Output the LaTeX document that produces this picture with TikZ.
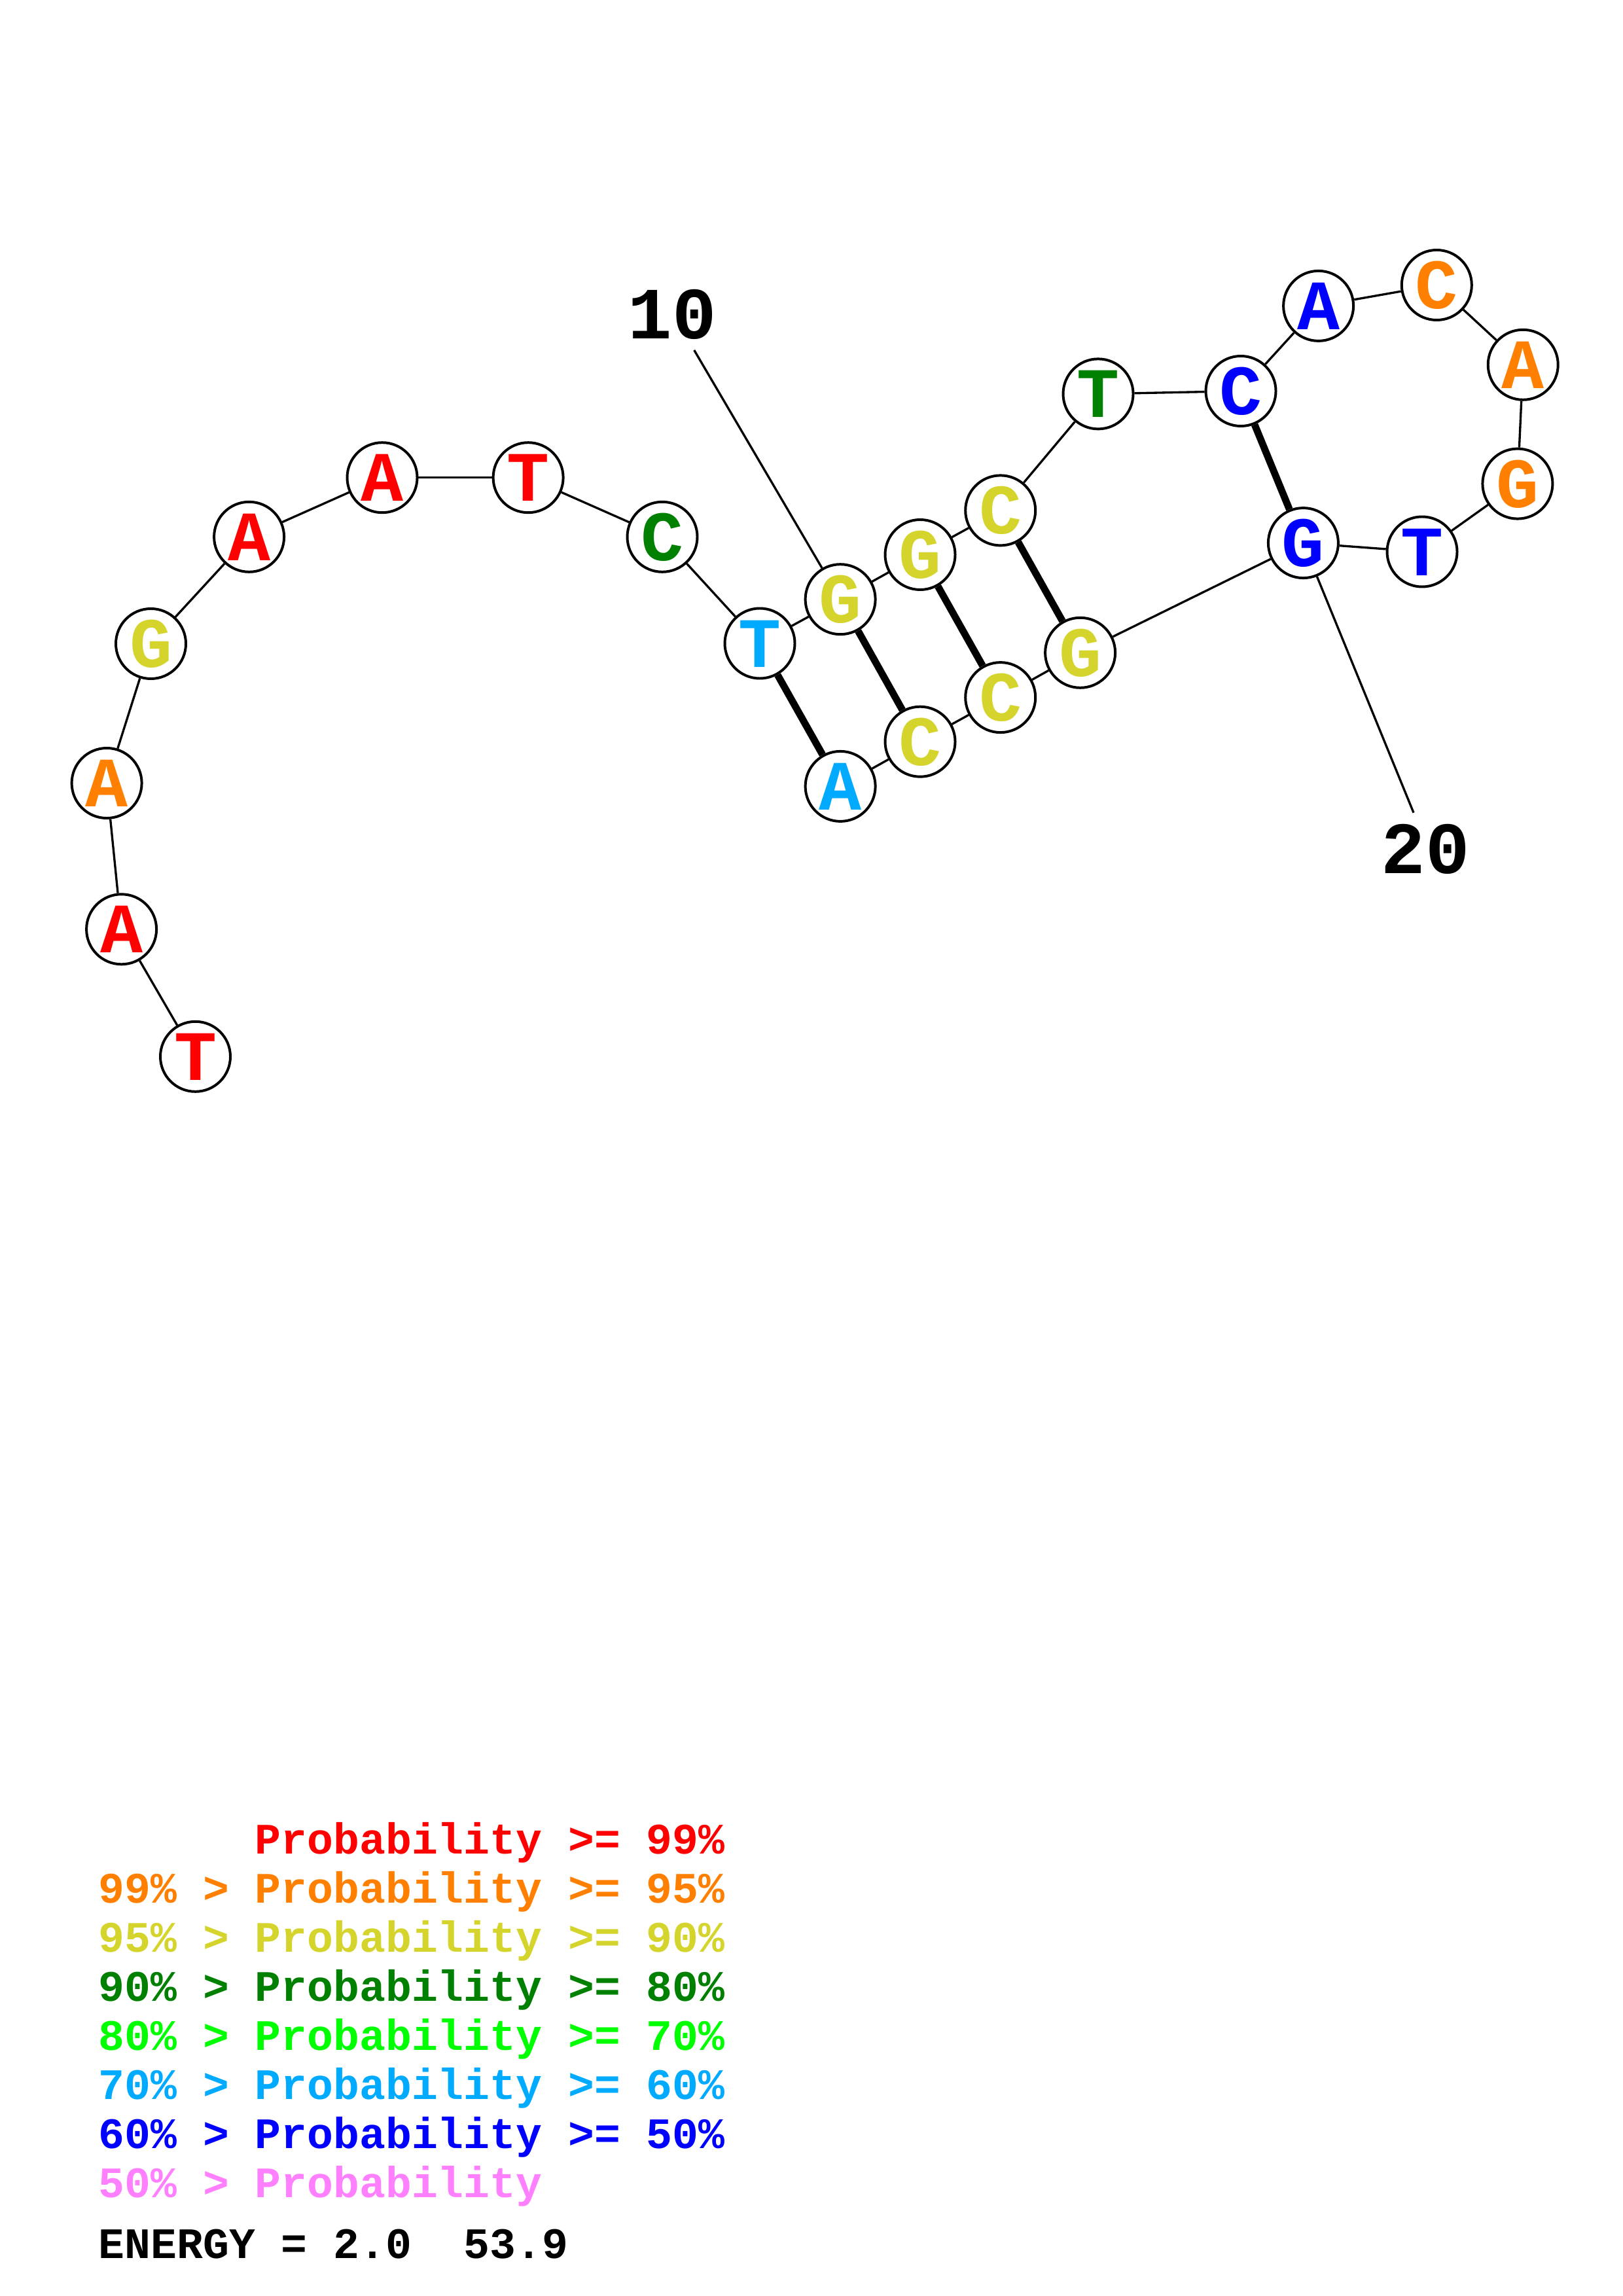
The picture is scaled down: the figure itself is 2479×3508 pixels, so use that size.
\documentclass[tikz,border=0pt]{standalone}
\usepackage{fontspec}
\newfontfamily\cour{Liberation Mono}
\definecolor{pred}{RGB}{255,0,0}
\definecolor{porange}{RGB}{255,128,0}
\definecolor{pyellow}{RGB}{212,212,44}
\definecolor{pdgreen}{RGB}{0,128,0}
\definecolor{pgreen}{RGB}{0,255,0}
\definecolor{plblue}{RGB}{0,170,255}
\definecolor{pblue}{RGB}{0,0,255}
\definecolor{ppink}{RGB}{255,128,255}
\begin{document}
\begin{tikzpicture}[x=0.24014pt,y=-0.24014pt,
  nt/.style={circle,draw=black,line width=0.95pt,fill=white,minimum size=25.7pt,inner sep=0pt,
    font=\cour\bfseries\fontsize{26}{26}\selectfont,text height=17.3pt,text depth=0pt,text=#1},
  bb/.style={line width=0.8pt},
  pairline/.style={line width=2.6pt},
  numlab/.style={anchor=base,inner sep=0pt,font=\cour\bfseries\fontsize{27}{27}\selectfont},
  leg/.style={anchor=base west,inner sep=0pt,font=\cour\bfseries\fontsize{15.95}{15.95}\selectfont,text=#1}]
\useasboundingbox (0,0) rectangle (2479,3508);
% nucleotides
\node[nt=pred]    (n1)  at (298.5,1614.3) {T};
\node[nt=pred]    (n2)  at (185.6,1419.8) {A};
\node[nt=porange] (n3)  at (163.1,1196.5) {A};
\node[nt=pyellow] (n4)  at (230.5,983.5) {G};
\node[nt=pred]    (n5)  at (380.6,820.3) {A};
\node[nt=pred]    (n6)  at (584.0,729.7) {A};
\node[nt=pred]    (n7)  at (807.1,729.7) {T};
\node[nt=pdgreen] (n8)  at (1012.0,820.3) {C};
\node[nt=plblue]  (n9)  at (1161.0,983.0) {T};
\node[nt=pyellow] (n10) at (1284.1,915.7) {G};
\node[nt=pyellow] (n11) at (1406.0,847.5) {G};
\node[nt=pyellow] (n12) at (1528.7,779.9) {C};
\node[nt=pdgreen] (n13) at (1678.0,601.9) {T};
\node[nt=pblue]   (n14) at (1896.0,597.5) {C};
\node[nt=pblue]   (n15) at (2014.6,467.4) {A};
\node[nt=porange] (n16) at (2195.3,435.5) {C};
\node[nt=porange] (n17) at (2327.2,557.3) {A};
\node[nt=porange] (n18) at (2318.9,739.1) {G};
\node[nt=pblue]   (n19) at (2173.0,843.0) {T};
\node[nt=pblue]   (n20) at (1991.4,829.6) {G};
\node[nt=pyellow] (n21) at (1650.6,997.3) {G};
\node[nt=pyellow] (n22) at (1528.7,1065.6) {C};
\node[nt=pyellow] (n23) at (1406.0,1133.2) {C};
\node[nt=plblue]  (n24) at (1284.1,1201.4) {A};
% backbone
\foreach \a/\b in {1/2,2/3,3/4,4/5,5/6,6/7,7/8,8/9,9/10,10/11,11/12,12/13,13/14,14/15,15/16,16/17,17/18,18/19,19/20,20/21,21/22,22/23,23/24}
  \draw[bb] (n\a) -- (n\b);
% base pairs
\foreach \a/\b in {9/24,10/23,11/22,12/21,14/20}
  \draw[pairline] (n\a) -- (n\b);
% position labels
\coordinate (c10) at (1060.7,535.0);
\coordinate (c20) at (2160.0,1241.7);
\draw[bb] (c10) -- (n10);
\draw[bb] (c20) -- (n20);
\node[numlab] (l10) at (1027,518) {10};
\node[numlab] (l20) at (2178,1334) {20};
% legend
\node[leg=pred]    (g1) at (150,2832.6) {\phantom{99\% > }Probability >= 99\%};
\node[leg=porange] (g2) at (150,2907.6) {99\% > Probability >= 95\%};
\node[leg=pyellow] (g3) at (150,2982.5) {95\% > Probability >= 90\%};
\node[leg=pdgreen] (g4) at (150,3057.5) {90\% > Probability >= 80\%};
\node[leg=pgreen]  (g5) at (150,3132.4) {80\% > Probability >= 70\%};
\node[leg=plblue]  (g6) at (150,3207.4) {70\% > Probability >= 60\%};
\node[leg=pblue]   (g7) at (150,3282.4) {60\% > Probability >= 50\%};
\node[leg=ppink]   (g8) at (150,3357.3) {50\% > Probability};
\node[leg=black]   (en) at (150,3450) {ENERGY = 2.0~~53.9};
\end{tikzpicture}
\end{document}
